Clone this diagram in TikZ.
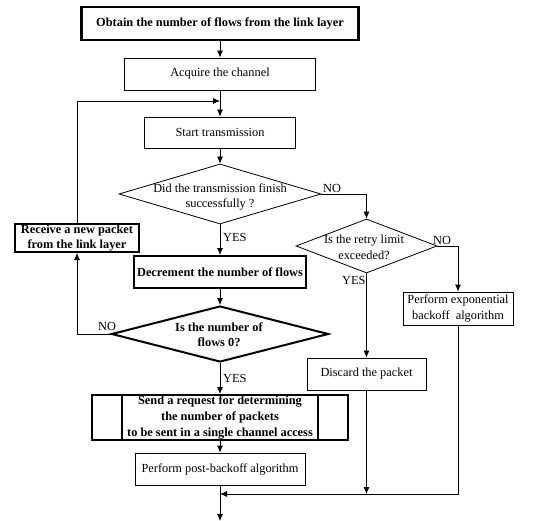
\documentclass[tikz,border=0pt]{standalone}
\usepackage{fontspec}
\setmainfont{Liberation Serif}
\usetikzlibrary{shapes.geometric,arrows.meta}
\newcommand\fs{\fontsize{12.4}{15.5}\selectfont}
\newcommand\fsw{\fontsize{12.4}{16}\selectfont}
\begin{document}
\begin{tikzpicture}[x=1bp,y=-1bp,
 box/.style={draw,line width=0.8bp,rectangle,inner sep=0,align=center,font=\fs},
 tbox/.style={box,line width=2bp,font=\fs\bfseries},
 dia/.style={draw,diamond,inner sep=0,line width=0.8bp},
 txt/.style={align=center,font=\fs,inner sep=0},
 lbl/.style={font=\fs,inner sep=0},
 arr/.style={-{Latex[length=7bp,width=6bp]},line width=0.8bp}]
\useasboundingbox (0,0) rectangle (553,521);
\node[tbox,line width=2.4bp,minimum width=277bp,minimum height=33bp] (obtain) at (220,23.5) {Obtain the number of flows from the link layer};
\node[box,minimum width=191bp,minimum height=32bp] (acq) at (220,74) {Acquire the channel};
\node[box,minimum width=151bp,minimum height=31bp] (start) at (220,132.5) {Start transmission};
\node[dia,minimum width=202bp,minimum height=60bp] (d1) at (220,194) {};
\node[txt] (d1t) at (220,197) {Did the transmission finish\\successfully ?};
\node[tbox,minimum width=124bp,minimum height=28bp] (recv) at (77,238) {Receive a new packet\\from the link layer};
\node[tbox,minimum width=172bp,minimum height=32bp] (dec) at (220,272) {Decrement the number of flows};
\node[dia,line width=2bp,minimum width=217bp,minimum height=56bp] (d3) at (220,334) {};
\node[txt,font=\fs\bfseries] (d3t) at (219,335) {Is the number of\\flows 0?};
\node[tbox,font=\fsw\bfseries,minimum width=256bp,minimum height=45bp] (send) at (220,417.5) {Send a request for determining\\the number of packets\\to be sent in a single channel access};
\draw[line width=2bp] ([xshift=31bp]send.north west) -- ([xshift=31bp]send.south west);
\draw[line width=2bp] ([xshift=-31bp]send.north east) -- ([xshift=-31bp]send.south east);
\node[box,minimum width=170bp,minimum height=32bp] (post) at (220,469) {Perform post-backoff algorithm};
\node[dia,minimum width=141bp,minimum height=54bp] (d2) at (366.5,246) {};
\node[txt] (d2t) at (364,247.5) {Is the retry limit\\exceeded?};
\node[box,minimum width=110bp,minimum height=33bp] (expo) at (458,308.5) {Perform exponential\\backoff\ \ algorithm};
\node[box,minimum width=119bp,minimum height=32bp] (disc) at (366.5,374) {Discard the packet};
\coordinate (j1) at (220,101);
\coordinate (j2) at (220,494);
\coordinate (end) at (220,521);
\draw[arr] (obtain) -- (acq);
\draw[arr] (acq) -- (start);
\draw[arr] (recv.north) |- (j1);
\draw[arr] (start) -- (d1);
\draw[arr] (d1.east) -| (d2.north);
\draw[arr] (d1) -- (dec);
\draw[arr] (dec) -- (d3);
\draw[arr] (d3.west) -| (recv.south);
\draw[arr] (d3) -- (send);
\draw[arr] (send) -- (post);
\draw[arr] (post) -- (end);
\draw[arr] (d2.east) -| (expo.north);
\draw[arr] (d2) -- (disc);
\draw[arr] (disc.south) -- (disc.south |- j2);
\draw[arr] (expo.south) |- (j2);
\node[lbl,anchor=west] (no1) at (323,188) {NO};
\node[lbl,anchor=west] (yes1) at (223,237) {YES};
\node[lbl,anchor=west] (no2) at (433,240) {NO};
\node[lbl,anchor=west] (yes2) at (342,280) {YES};
\node[lbl,anchor=west] (no3) at (98,326) {NO};
\node[lbl,anchor=west] (yes3) at (223,378) {YES};
\end{tikzpicture}
\end{document}
